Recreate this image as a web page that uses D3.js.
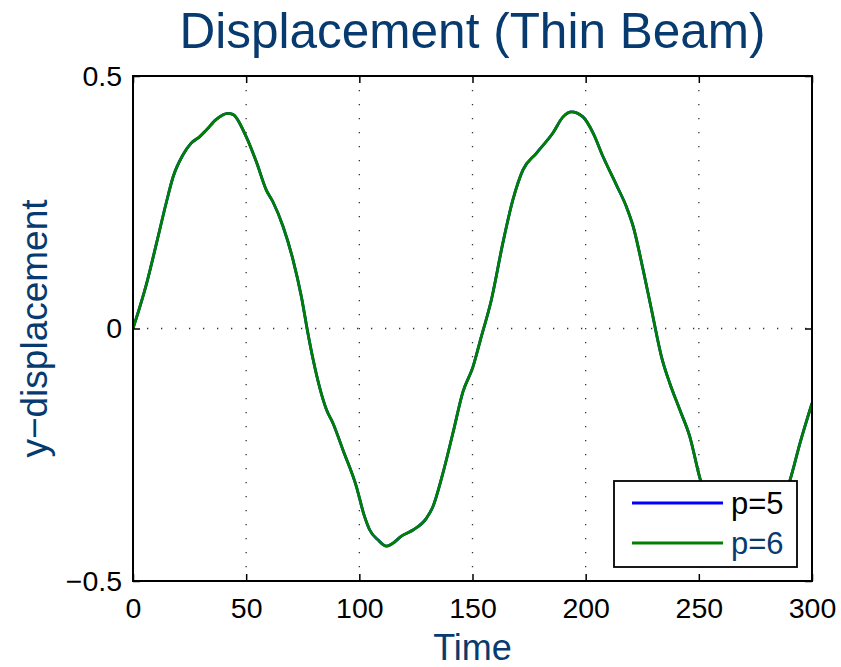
<!DOCTYPE html>
<html>
<head>
<meta charset="utf-8">
<script src="https://cdn.jsdelivr.net/npm/d3@7"></script>
<style>
  html, body { margin: 0; padding: 0; background: #fff; }
  text { font-family: "Liberation Sans", Arial, Helvetica, sans-serif; }
</style>
</head>
<body>
<svg id="chart" width="841" height="667"></svg>
<script>
// ---- data ----
const times = [0,6,10.4,14.8,17.7,22.1,25.7,29.5,32.4,36.8,41.9,44.1,50,54.5,58.9,61.8,66.3,70.7,74.4,77.3,79.6,85.5,88.4,92.8,98.7,102,104.6,108.3,112,114.9,118.6,123.7,129.6,132.5,136.9,141.3,145.8,150.2,153.9,158.3,163.4,167.8,172.3,178.2,185.5,190,193.7,198.8,203.3,207.7,213.6,218,221,225.4,229.1,233.5,237.2,241.6,246,250.5,255,260,265,270,275,280,285,290.3,294.7,300];
const p5Values = [0,0.089,0.169,0.251,0.300,0.344,0.367,0.380,0.393,0.414,0.426,0.424,0.380,0.330,0.274,0.251,0.202,0.136,0.063,-0.010,-0.062,-0.161,-0.188,-0.241,-0.313,-0.368,-0.399,-0.419,-0.431,-0.425,-0.411,-0.399,-0.376,-0.353,-0.287,-0.208,-0.125,-0.076,-0.016,0.056,0.169,0.254,0.314,0.347,0.387,0.419,0.429,0.419,0.387,0.340,0.284,0.241,0.202,0.116,0.037,-0.056,-0.109,-0.161,-0.214,-0.297,-0.36,-0.40,-0.425,-0.43,-0.42,-0.40,-0.36,-0.300,-0.227,-0.148];
const p6Values = [0,0.089,0.169,0.251,0.300,0.344,0.367,0.380,0.393,0.414,0.426,0.424,0.380,0.330,0.274,0.251,0.202,0.136,0.063,-0.010,-0.062,-0.161,-0.188,-0.241,-0.313,-0.368,-0.399,-0.419,-0.431,-0.425,-0.411,-0.399,-0.376,-0.353,-0.287,-0.208,-0.125,-0.076,-0.016,0.056,0.169,0.254,0.314,0.347,0.387,0.419,0.429,0.419,0.387,0.340,0.284,0.241,0.202,0.116,0.037,-0.056,-0.109,-0.161,-0.214,-0.297,-0.36,-0.40,-0.425,-0.43,-0.42,-0.40,-0.36,-0.300,-0.227,-0.148];
const seriesNames = ["p=5", "p=6"];
const seriesColors = ["#0000ff", "#008000"];
const xTicks = [0, 50, 100, 150, 200, 250, 300];
const yTicks = [-0.5, 0, 0.5];
const titleText = "Displacement (Thin Beam)";
const xLabel = "Time";
const yLabel = "y\u2212displacement";

// ---- layout ----
const svg = d3.select("#chart");
const L = 133, R = 812, T = 76, B = 581;
const navy = "#073b6f";

const x = d3.scaleLinear().domain([0, 300]).range([L, R]);
const y = d3.scaleLinear().domain([-0.5, 0.5]).range([B, T]);

// grid (dotted)
const grid = svg.append("g");
grid.selectAll("line.vg").data(xTicks.filter(d => d > 0 && d < 300)).enter()
  .append("line")
  .attr("x1", d => x(d)).attr("x2", d => x(d))
  .attr("y1", T).attr("y2", B)
  .attr("stroke", "#333").attr("stroke-width", 1.3)
  .attr("stroke-dasharray", "1.3,12.7");
grid.selectAll("line.hg").data(yTicks.filter(d => d > -0.5 && d < 0.5)).enter()
  .append("line")
  .attr("x1", L).attr("x2", R)
  .attr("y1", d => y(d)).attr("y2", d => y(d))
  .attr("stroke", "#333").attr("stroke-width", 1.3)
  .attr("stroke-dasharray", "1.3,12.7");

// clip
svg.append("clipPath").attr("id", "clip")
  .append("rect").attr("x", L).attr("y", T).attr("width", R - L).attr("height", B - T);

const series = [p5Values, p6Values];
const line = d3.line()
  .x((d, i) => x(times[i]))
  .y(d => y(d))
  .curve(d3.curveMonotoneX);

svg.append("g").attr("clip-path", "url(#clip)")
  .selectAll("path").data(series).enter()
  .append("path")
  .attr("d", d => line(d))
  .attr("fill", "none")
  .attr("stroke", (d, i) => seriesColors[i])
  .attr("stroke-width", 2.8)
  .attr("stroke-linejoin", "round");

// axes with inward ticks
const tickLen = 7;
const xAxisB = d3.axisBottom(x).tickValues(xTicks).tickSizeInner(-tickLen).tickSizeOuter(0).tickPadding(17).tickFormat(d3.format("d"));
const xAxisT = d3.axisTop(x).tickValues(xTicks).tickSizeInner(-tickLen).tickSizeOuter(0).tickFormat("");
const yAxisL = d3.axisLeft(y).tickValues(yTicks).tickSizeInner(-tickLen).tickSizeOuter(0).tickPadding(11)
  .tickFormat(d => d === 0 ? "0" : (d < 0 ? "\u2212" + Math.abs(d) : String(d)));
const yAxisR = d3.axisRight(y).tickValues(yTicks).tickSizeInner(-tickLen).tickSizeOuter(0).tickFormat("");

function style(g) {
  g.select(".domain").remove();
  g.selectAll(".tick line").attr("stroke", "#000").attr("stroke-width", 1.5);
  g.selectAll(".tick text").attr("fill", "#000").attr("font-size", 28.5)
    .attr("font-family", "'Liberation Sans', Arial, sans-serif");
}
svg.append("g").attr("transform", `translate(0,${B})`).call(xAxisB).call(style);
svg.append("g").attr("transform", `translate(0,${T})`).call(xAxisT).call(style);
svg.append("g").attr("transform", `translate(${L},0)`).call(yAxisL).call(style);
svg.append("g").attr("transform", `translate(${R},0)`).call(yAxisR).call(style);

// frame
svg.append("rect").attr("x", L).attr("y", T).attr("width", R - L).attr("height", B - T)
  .attr("fill", "none").attr("stroke", "#000").attr("stroke-width", 2);

// title & labels
svg.append("text").attr("x", (L + R) / 2).attr("y", 48)
  .attr("text-anchor", "middle").attr("font-size", 49.5).attr("fill", navy).text(titleText);
svg.append("text").attr("x", (L + R) / 2).attr("y", 660)
  .attr("text-anchor", "middle").attr("font-size", 36).attr("fill", navy).text(xLabel);
svg.append("text").attr("transform", `translate(47,${(T + B) / 2}) rotate(-90)`)
  .attr("text-anchor", "middle").attr("font-size", 37).attr("fill", navy).text(yLabel);

// legend
const lg = svg.append("g");
lg.append("rect").attr("x", 614).attr("y", 481).attr("width", 183).attr("height", 86)
  .attr("fill", "#fff").attr("stroke", "#000").attr("stroke-width", 1.8);
const rows = [503, 543];
seriesNames.forEach((name, i) => {
  lg.append("line").attr("x1", 632).attr("x2", 723).attr("y1", rows[i]).attr("y2", rows[i])
    .attr("stroke", seriesColors[i]).attr("stroke-width", 2.8);
  lg.append("text").attr("x", 731).attr("y", rows[i] + 11)
    .attr("font-size", 31).attr("fill", i === 0 ? "#000" : navy).text(name);
});
</script>
</body>
</html>
